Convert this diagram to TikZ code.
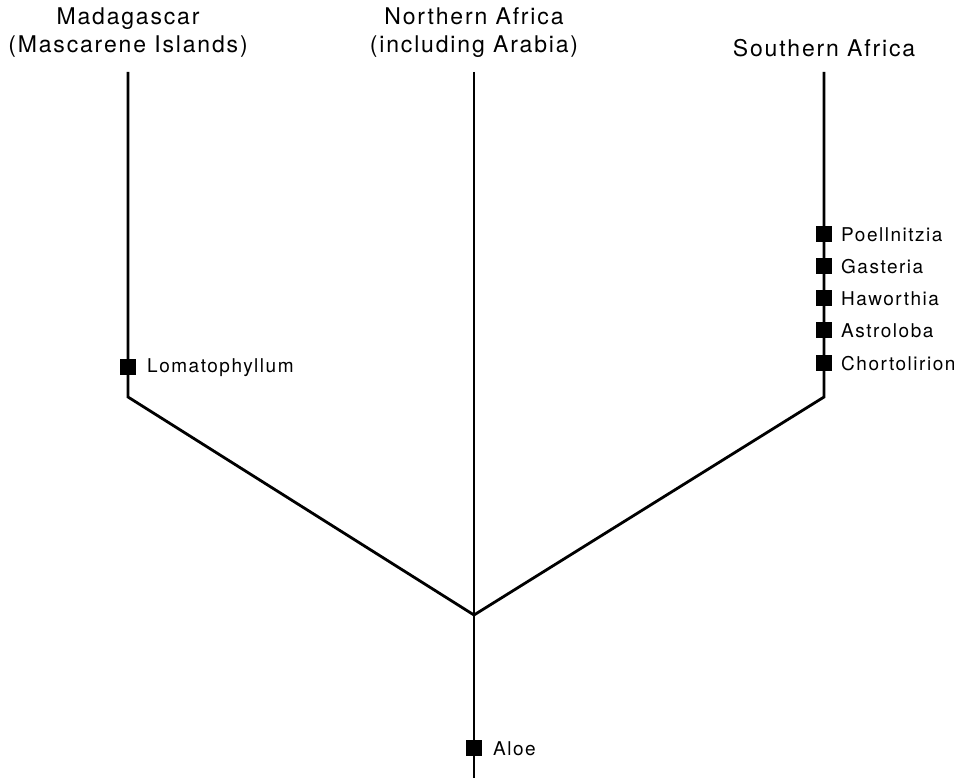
\documentclass[tikz,border=0pt]{standalone}
\usepackage{fontspec}
\setmainfont{TeX Gyre Heros}[LetterSpace=8]
\begin{document}
\begin{tikzpicture}[x=1pt,y=-1pt,
  branch/.style={line width=2.8pt, line cap=butt, line join=miter},
  sq/.style={fill=black, minimum size=16pt, inner sep=0pt, draw=none},
  lab/.style={anchor=west, inner sep=0pt, font=\fontsize{19}{22}\selectfont},
  head/.style={align=center, inner sep=0pt, font=\fontsize{23}{28}\selectfont}]
\useasboundingbox (0,0) rectangle (965,778);
% tree points
\coordinate (ltop) at (128,72);
\coordinate (lbot) at (128,397);
\coordinate (ctop) at (474,72);
\coordinate (fork) at (474,615);
\coordinate (cbot) at (474,778);
\coordinate (rtop) at (824,72);
\coordinate (rbot) at (824,397);
\draw[branch] (ltop) -- (lbot) -- (fork) -- (rbot) -- (rtop);
\draw[branch] (ctop) -- (cbot);
% headings
\node[head] (hmad) at (128,33) {Madagascar\\(Mascarene Islands)};
\node[head] (hnaf) at (474,33) {Northern Africa\\(including Arabia)};
\node[head] (hsaf) at (824,48) {Southern Africa};
% squares
\node[sq] (slom) at (128,367) {};
\node[sq] (spoe) at (824,234) {};
\node[sq] (sgas) at (824,266) {};
\node[sq] (shaw) at (824,298) {};
\node[sq] (sast) at (824,330) {};
\node[sq] (scho) at (824,363) {};
\node[sq] (saloe) at (474,748) {};
% labels
\node[lab] (llom) at (147,368) {Lomatophyllum};
\node[lab] (lpoe) at (841,235) {Poellnitzia};
\node[lab] (lgas) at (841,267) {Gasteria};
\node[lab] (lhaw) at (841,299) {Haworthia};
\node[lab] (last) at (841,331) {Astroloba};
\node[lab] (lcho) at (841,364) {Chortolirion};
\node[lab] (laloe) at (493,749) {Aloe};
\end{tikzpicture}
\end{document}
